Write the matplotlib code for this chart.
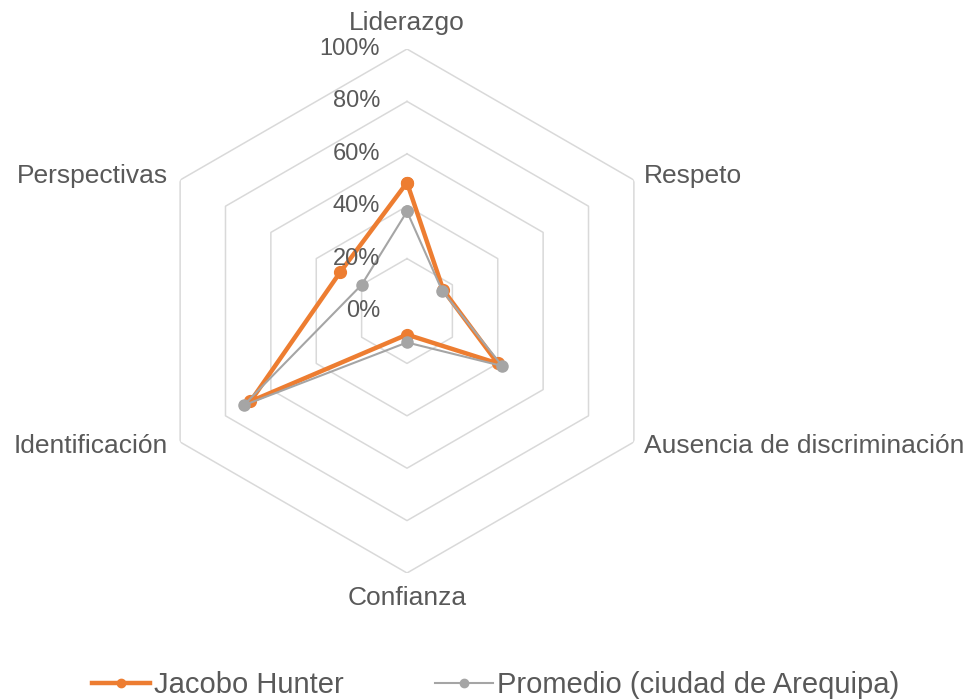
import numpy as np
import matplotlib
matplotlib.use('Agg')
import matplotlib.pyplot as plt
from matplotlib.lines import Line2D

plt.rcParams['font.family'] = ['Liberation Sans', 'DejaVu Sans']

categories = ['Liderazgo', 'Respeto', 'Ausencia de discriminación',
              'Confianza', 'Identificación', 'Perspectivas']
jacobo = [0.49, 0.16, 0.40, 0.09, 0.69, 0.295]
promedio = [0.38, 0.155, 0.42, 0.12, 0.72, 0.20]
ring_values = [0.2, 0.4, 0.6, 0.8, 1.0]
tick_labels = ['0%', '20%', '40%', '60%', '80%', '100%']
series_names = ['Jacobo Hunter', 'Promedio (ciudad de Arequipa)']

text_color = '#595959'
grid_color = '#d9d9d9'
orange = '#ED7D31'
gray = '#A5A5A5'
fs = 19

fig = plt.figure(figsize=(9.68, 7.0), dpi=100)
ax = fig.add_axes([0.1498, 0.1814, 0.5413, 0.7486], projection='polar')
ax.set_theta_zero_location('N')
ax.set_theta_direction(-1)
ax.set_ylim(0, 1)
ax.grid(False)
ax.spines['polar'].set_visible(False)
ax.set_xticks([])
ax.set_yticks([])
ax.patch.set_alpha(0)

n = len(categories)
angles = np.linspace(0, 2 * np.pi, n, endpoint=False)
closed = np.append(angles, angles[0])

# hexagonal gridlines
for r in ring_values:
    ax.plot(closed, [r] * (n + 1), color=grid_color, lw=1.1, zorder=1)

# series
ax.plot(closed, promedio + promedio[:1], color=gray, lw=1.5, marker='o',
        markersize=8, zorder=3)
ax.plot(closed, jacobo + jacobo[:1], color=orange, lw=3.2, marker='o',
        markersize=8.5, zorder=2)

# value labels on the vertical axis
for i, lab in enumerate(tick_labels):
    ax.annotate(lab, xy=(0, i * 0.2), xytext=(-27, 0), textcoords='offset pixels',
                ha='right', va='center', fontsize=17, color=text_color, zorder=5)

# category labels
offsets = [((0, 26), 'center'), ((10, 4), 'left'), ((10, -4), 'left'),
           ((0, -25), 'center'), ((-12, -4), 'right'), ((-12, 4), 'right')]
for ang, cat, (off, ha) in zip(angles, categories, offsets):
    ax.annotate(cat, xy=(ang, 1.0), xytext=off, textcoords='offset pixels',
                ha=ha, va='center', fontsize=fs, color=text_color,
                annotation_clip=False)

handles = [Line2D([], [], color=orange, lw=3.2, marker='o', markersize=6),
           Line2D([], [], color=gray, lw=1.5, marker='o', markersize=6)]
leg = fig.legend(handles, series_names, loc='center', bbox_to_anchor=(0.512, 0.0214),
                 ncol=2, frameon=False, fontsize=21, handlelength=2.0,
                 handletextpad=0.15, columnspacing=3.1, borderpad=0)
for t in leg.get_texts():
    t.set_color(text_color)

fig.savefig('out.png', dpi=100)
